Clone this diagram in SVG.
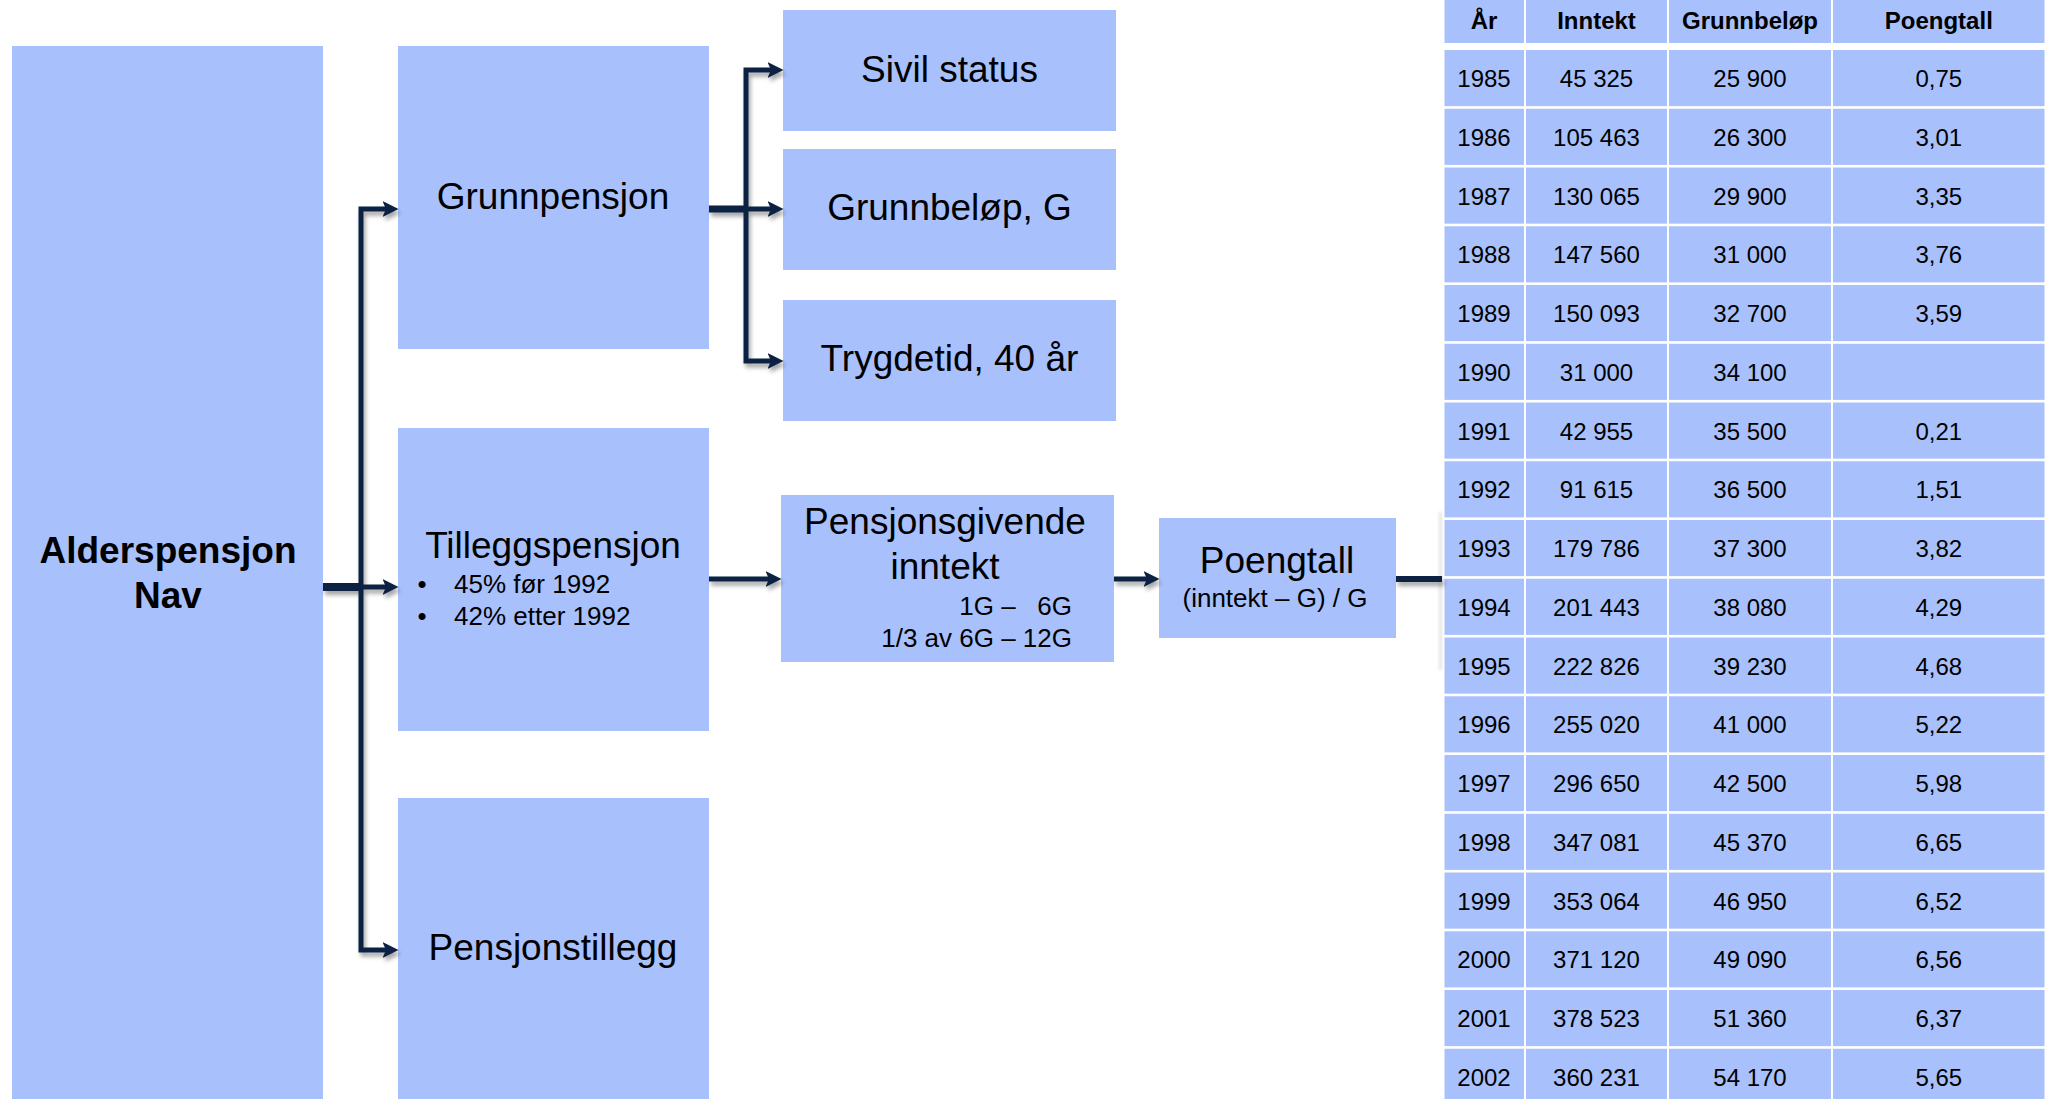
<svg xmlns="http://www.w3.org/2000/svg" width="2047" height="1099" viewBox="0 0 2047 1099">
<style>
  .box { fill: #a8c1fd; }
  text { font-family: "Liberation Sans", Arial, sans-serif; fill: #000; }
  .big { font-size: 37px; text-anchor: middle; }
  .bold { font-weight: bold; }
  .small { font-size: 26px; }
  .end { text-anchor: end; }
  .th { font-size: 24px; font-weight: bold; text-anchor: middle; }
  .td { font-size: 24px; text-anchor: middle; }
  .conn { fill: none; stroke: #0b2143; stroke-linejoin: miter; }
  .thin { stroke-width: 5; marker-end: url(#arr); }
  .gap { fill: #ffffff; }
</style>
<defs>
  <marker id="arr" markerUnits="userSpaceOnUse" markerWidth="17" markerHeight="17" refX="7.5" refY="8" orient="auto">
    <path d="M0,0 L16,8 L0,16 L3.5,8 Z" fill="#0b2143"/>
  </marker>
  <filter id="sh" x="-20%" y="-20%" width="140%" height="140%">
    <feDropShadow dx="2" dy="4" stdDeviation="2" flood-color="#000" flood-opacity="0.35"/>
  </filter>
  <filter id="blur" x="-200%" y="-10%" width="500%" height="120%">
    <feGaussianBlur stdDeviation="1.5"/>
  </filter>
</defs>
<rect x="0" y="0" width="2047" height="1099" fill="#ffffff"/>

<g id="alderspensjon">
  <rect class="box" x="12" y="46" width="311" height="1053"/>
  <text class="big bold" x="168" y="563">Alderspensjon</text>
  <text class="big bold" x="168" y="608">Nav</text>
</g>
<g id="grunnpensjon">
  <rect class="box" x="398" y="46" width="311" height="303"/>
  <text class="big" x="553" y="209">Grunnpensjon</text>
</g>
<g id="tilleggspensjon">
  <rect class="box" x="398" y="428" width="311" height="303"/>
  <text class="big" x="553" y="558">Tilleggspensjon</text>
  <text class="small" x="422" y="593" text-anchor="middle">•</text>
  <text class="small" x="454" y="593">45% før 1992</text>
  <text class="small" x="422" y="625" text-anchor="middle">•</text>
  <text class="small" x="454" y="625">42% etter 1992</text>
</g>
<g id="pensjonstillegg">
  <rect class="box" x="398" y="798" width="311" height="301"/>
  <text class="big" x="553" y="960">Pensjonstillegg</text>
</g>
<g id="sivilstatus">
  <rect class="box" x="783" y="10" width="333" height="121"/>
  <text class="big" x="949.5" y="82">Sivil status</text>
</g>
<g id="grunnbelop">
  <rect class="box" x="783" y="149" width="333" height="121"/>
  <text class="big" x="949.5" y="220">Grunnbeløp, G</text>
</g>
<g id="trygdetid">
  <rect class="box" x="783" y="300" width="333" height="121"/>
  <text class="big" x="949.5" y="371">Trygdetid, 40 år</text>
</g>
<g id="pensjonsgivende">
  <rect class="box" x="781" y="495" width="333" height="167"/>
  <text class="big" x="945" y="534">Pensjonsgivende</text>
  <text class="big" x="945" y="579">inntekt</text>
  <text class="small end" x="1072" y="615" xml:space="preserve">1G –   6G</text>
  <text class="small end" x="1072" y="647">1/3 av 6G – 12G</text>
</g>
<g id="poengtall">
  <rect class="box" x="1159" y="518" width="237" height="120"/>
  <text class="big" x="1277" y="573">Poengtall</text>
  <text class="small" x="1275" y="607" text-anchor="middle">(inntekt – G) / G</text>
</g>

<g id="table">
  <rect class="box" x="1444.5" y="0" width="79.5" height="1099"/>
  <rect class="box" x="1526" y="0" width="141" height="1099"/>
  <rect class="box" x="1669" y="0" width="162" height="1099"/>
  <rect class="box" x="1833" y="0" width="211.5" height="1099"/>
  <rect class="gap" x="1444" y="43" width="603" height="7"/>
  <rect class="gap" x="1444" y="106.15" width="603" height="2.6"/>
  <rect class="gap" x="1444" y="164.9" width="603" height="2.6"/>
  <rect class="gap" x="1444" y="223.65" width="603" height="2.6"/>
  <rect class="gap" x="1444" y="282.4" width="603" height="2.6"/>
  <rect class="gap" x="1444" y="341.15" width="603" height="2.6"/>
  <rect class="gap" x="1444" y="399.9" width="603" height="2.6"/>
  <rect class="gap" x="1444" y="458.65" width="603" height="2.6"/>
  <rect class="gap" x="1444" y="517.4" width="603" height="2.6"/>
  <rect class="gap" x="1444" y="576.15" width="603" height="2.6"/>
  <rect class="gap" x="1444" y="634.9" width="603" height="2.6"/>
  <rect class="gap" x="1444" y="693.65" width="603" height="2.6"/>
  <rect class="gap" x="1444" y="752.4" width="603" height="2.6"/>
  <rect class="gap" x="1444" y="811.15" width="603" height="2.6"/>
  <rect class="gap" x="1444" y="869.9" width="603" height="2.6"/>
  <rect class="gap" x="1444" y="928.65" width="603" height="2.6"/>
  <rect class="gap" x="1444" y="987.4" width="603" height="2.6"/>
  <rect class="gap" x="1444" y="1046.15" width="603" height="2.6"/>

  <text class="th" x="1484" y="28.5">År</text>
  <text class="th" x="1596.5" y="28.5">Inntekt</text>
  <text class="th" x="1750" y="28.5">Grunnbeløp</text>
  <text class="th" x="1938.8" y="28.5">Poengtall</text>

  <g>
    <text class="td" x="1484" y="87">1985</text><text class="td" x="1596.5" y="87">45 325</text><text class="td" x="1750" y="87">25 900</text><text class="td" x="1938.8" y="87">0,75</text>
    <text class="td" x="1484" y="145.75">1986</text><text class="td" x="1596.5" y="145.75">105 463</text><text class="td" x="1750" y="145.75">26 300</text><text class="td" x="1938.8" y="145.75">3,01</text>
    <text class="td" x="1484" y="204.5">1987</text><text class="td" x="1596.5" y="204.5">130 065</text><text class="td" x="1750" y="204.5">29 900</text><text class="td" x="1938.8" y="204.5">3,35</text>
    <text class="td" x="1484" y="263.25">1988</text><text class="td" x="1596.5" y="263.25">147 560</text><text class="td" x="1750" y="263.25">31 000</text><text class="td" x="1938.8" y="263.25">3,76</text>
    <text class="td" x="1484" y="322">1989</text><text class="td" x="1596.5" y="322">150 093</text><text class="td" x="1750" y="322">32 700</text><text class="td" x="1938.8" y="322">3,59</text>
    <text class="td" x="1484" y="380.75">1990</text><text class="td" x="1596.5" y="380.75">31 000</text><text class="td" x="1750" y="380.75">34 100</text>
    <text class="td" x="1484" y="439.5">1991</text><text class="td" x="1596.5" y="439.5">42 955</text><text class="td" x="1750" y="439.5">35 500</text><text class="td" x="1938.8" y="439.5">0,21</text>
    <text class="td" x="1484" y="498.25">1992</text><text class="td" x="1596.5" y="498.25">91 615</text><text class="td" x="1750" y="498.25">36 500</text><text class="td" x="1938.8" y="498.25">1,51</text>
    <text class="td" x="1484" y="557">1993</text><text class="td" x="1596.5" y="557">179 786</text><text class="td" x="1750" y="557">37 300</text><text class="td" x="1938.8" y="557">3,82</text>
    <text class="td" x="1484" y="615.75">1994</text><text class="td" x="1596.5" y="615.75">201 443</text><text class="td" x="1750" y="615.75">38 080</text><text class="td" x="1938.8" y="615.75">4,29</text>
    <text class="td" x="1484" y="674.5">1995</text><text class="td" x="1596.5" y="674.5">222 826</text><text class="td" x="1750" y="674.5">39 230</text><text class="td" x="1938.8" y="674.5">4,68</text>
    <text class="td" x="1484" y="733.25">1996</text><text class="td" x="1596.5" y="733.25">255 020</text><text class="td" x="1750" y="733.25">41 000</text><text class="td" x="1938.8" y="733.25">5,22</text>
    <text class="td" x="1484" y="792">1997</text><text class="td" x="1596.5" y="792">296 650</text><text class="td" x="1750" y="792">42 500</text><text class="td" x="1938.8" y="792">5,98</text>
    <text class="td" x="1484" y="850.75">1998</text><text class="td" x="1596.5" y="850.75">347 081</text><text class="td" x="1750" y="850.75">45 370</text><text class="td" x="1938.8" y="850.75">6,65</text>
    <text class="td" x="1484" y="909.5">1999</text><text class="td" x="1596.5" y="909.5">353 064</text><text class="td" x="1750" y="909.5">46 950</text><text class="td" x="1938.8" y="909.5">6,52</text>
    <text class="td" x="1484" y="968.25">2000</text><text class="td" x="1596.5" y="968.25">371 120</text><text class="td" x="1750" y="968.25">49 090</text><text class="td" x="1938.8" y="968.25">6,56</text>
    <text class="td" x="1484" y="1027">2001</text><text class="td" x="1596.5" y="1027">378 523</text><text class="td" x="1750" y="1027">51 360</text><text class="td" x="1938.8" y="1027">6,37</text>
    <text class="td" x="1484" y="1085.75">2002</text><text class="td" x="1596.5" y="1085.75">360 231</text><text class="td" x="1750" y="1085.75">54 170</text><text class="td" x="1938.8" y="1085.75">5,65</text>
  </g>
  <rect x="1439.5" y="512" width="2" height="158" fill="#b0b0b0" opacity="0.5" filter="url(#blur)"/>
</g>

<g id="connectors" filter="url(#sh)">
  <path class="conn" d="M323,587 H361" stroke-width="8"/>
  <path class="conn thin" d="M361,587 V209 H390"/>
  <path class="conn thin" d="M361,587 H390"/>
  <path class="conn thin" d="M361,587 V950 H390"/>
  <path class="conn" d="M709,209 H746" stroke-width="7"/>
  <path class="conn thin" d="M746,209 V70 H775"/>
  <path class="conn thin" d="M746,209 H775"/>
  <path class="conn thin" d="M746,209 V361 H775"/>
  <path class="conn thin" d="M709,579 H773" stroke-width="5.5"/>
  <path class="conn thin" d="M1114,579 H1151" stroke-width="5.5"/>
  <path class="conn" d="M1396,579 H1442" stroke-width="6"/>
</g>
</svg>
